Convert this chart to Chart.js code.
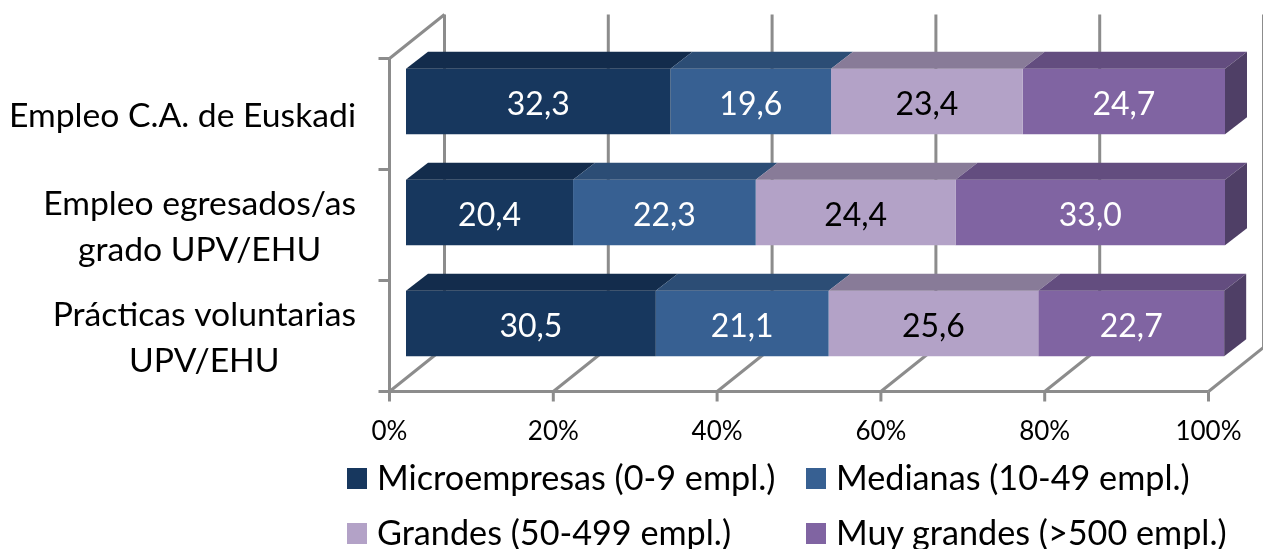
<!DOCTYPE html>
<html>
<head>
<meta charset="utf-8">
<script src="https://cdn.jsdelivr.net/npm/chart.js@4"></script>
<style>
html, body { margin: 0; padding: 0; background: #fff; overflow: hidden; }
#wrap { position: relative; width: 1263px; height: 549px; }
#legend span { position: absolute; font: 34.2px Lato, sans-serif; color: #000; white-space: nowrap; line-height: 34px; }
#legend i { position: absolute; width: 20px; height: 21px; }
</style>
</head>
<body>
<div id="wrap">
<canvas id="chart" width="1263" height="549"></canvas>
<div id="legend"></div>
</div>
<script>
const categories = [
	['Empleo C.A. de Euskadi'],
	['Empleo egresados/as', 'grado UPV/EHU'],
	['Prácticas voluntarias', 'UPV/EHU']
]
const seriesNames = ['Microempresas (0-9 empl.)', 'Medianas (10-49 empl.)', 'Grandes (50-499 empl.)', 'Muy grandes (>500 empl.)']
const micro = [32.3, 20.4, 30.5]
const medianas = [19.6, 22.3, 21.1]
const grandes = [23.4, 24.4, 25.6]
const muyGrandes = [24.7, 33.0, 22.7]
const xTicks = [0, 20, 40, 60, 80, 100]

const frontColors = ['#17375E', '#376092', '#B3A2C7', '#8064A2']
const topColors = ['#132C4C', '#2C4D75', '#887B98', '#634D7F']
const labelColors = ['#fff', '#fff', '#000', '#fff']
const sideColor = '#4F3F66'
const wallColor = '#8C8C8C'
const font = 'Lato, sans-serif'

// bars sit a bit up/right of the front plane of the box
const frontDx = -16.5, frontDy = 12.5
const backDx = 55, backDy = -44
const barDx = 22, barDy = -17

function line(ctx, x1, y1, x2, y2) {
	ctx.beginPath()
	ctx.moveTo(x1, y1)
	ctx.lineTo(x2, y2)
	ctx.stroke()
}

function poly(ctx, pts, fill) {
	ctx.beginPath()
	pts.forEach((p, i) => i ? ctx.lineTo(p[0], p[1]) : ctx.moveTo(p[0], p[1]))
	ctx.closePath()
	ctx.fillStyle = fill
	ctx.fill()
}

const box3d = {
	id: 'box3d',
	beforeDatasetsDraw(chart) {
		const ctx = chart.ctx, x = chart.scales.x, y = chart.scales.y
		const top = y.getPixelForValue(-0.5) + frontDy
		const bottom = y.getPixelForValue(categories.length - 0.5) + frontDy
		ctx.save()
		ctx.strokeStyle = wallColor
		ctx.lineWidth = 3
		xTicks.forEach((v) => {
			const px = x.getPixelForValue(v) + frontDx
			line(ctx, px + backDx, top + backDy, px + backDx, bottom + backDy)
			line(ctx, px, bottom, px + backDx, bottom + backDy)
			line(ctx, px, bottom, px, bottom + 10)
		})
		const left = x.getPixelForValue(0) + frontDx
		const right = x.getPixelForValue(100) + frontDx
		line(ctx, left, top, left, bottom + 1)
		line(ctx, left, top, left + backDx, top + backDy)
		line(ctx, left, bottom, right, bottom)
		for (let i = 0; i <= categories.length; i++) {
			const py = y.getPixelForValue(i - 0.5) + frontDy
			line(ctx, left - 11, py, left, py)
		}
		ctx.restore()
	},
	afterDatasetsDraw(chart) {
		const ctx = chart.ctx, x = chart.scales.x, y = chart.scales.y
		ctx.save()
		chart.data.datasets.forEach((ds, d) => {
			chart.getDatasetMeta(d).data.forEach((bar, i) => {
				const x0 = bar.base, x1 = Math.min(bar.x, chart.chartArea.right)
				const y0 = bar.y - bar.height / 2, y1 = bar.y + bar.height / 2
				poly(ctx, [[x0, y0], [x0 + barDx, y0 + barDy], [x1 + barDx, y0 + barDy], [x1, y0]], topColors[d])
				if (d === chart.data.datasets.length - 1) {
					poly(ctx, [[x1, y0], [x1 + barDx, y0 + barDy], [x1 + barDx, y1 + barDy], [x1, y1]], sideColor)
				}
				ctx.font = '32px ' + font
				ctx.fillStyle = labelColors[d]
				ctx.textAlign = 'center'
				ctx.textBaseline = 'middle'
				ctx.fillText(ds.data[i].toFixed(1).replace('.', ','), (x0 + x1) / 2, bar.y + 3)
			})
		})
		// category labels: lines centred on each other, block ends at the axis side
		ctx.font = '33.7px ' + font
		ctx.fillStyle = '#000'
		ctx.textAlign = 'center'
		ctx.textBaseline = 'middle'
		categories.forEach((lines, i) => {
			const w = Math.max(...lines.map((l) => ctx.measureText(l).width))
			const cy = y.getPixelForValue(i) + frontDy + 2
			lines.forEach((l, j) => {
				ctx.fillText(l, 356 - w / 2, cy + (j - (lines.length - 1) / 2) * 46)
			})
		})
		ctx.restore()
	}
}

new Chart(document.getElementById('chart').getContext('2d'), {
	type: 'bar',
	data: {
		labels: categories.map((c) => c.join(' ')),
		datasets: [micro, medianas, grandes, muyGrandes].map((vals, i) => ({
			label: seriesNames[i],
			data: vals,
			backgroundColor: frontColors[i],
			barPercentage: 0.59,
			categoryPercentage: 1
		}))
	},
	options: {
		indexAxis: 'y',
		responsive: false,
		animation: false,
		layout: { padding: { top: 46, right: 38 } },
		plugins: { legend: { display: false }, tooltip: { enabled: false } },
		scales: {
			x: {
				stacked: true,
				min: 0,
				max: 100,
				afterFit(s) { s.height = 170; s.paddingLeft = 0; s.paddingRight = 0 },
				grid: { display: false },
				border: { display: false },
				ticks: {
					stepSize: 20,
					maxRotation: 0,
					labelOffset: frontDx,
					padding: 29,
					color: '#000',
					font: { family: font, size: 26 },
					callback: (v) => v + '%'
				}
			},
			y: {
				stacked: true,
				afterFit(s) { s.width = 406 },
				grid: { display: false },
				border: { display: false },
				ticks: { display: false }
			}
		}
	},
	plugins: [box3d]
})

// legend is a 2x2 grid with fixed columns, the built-in one cannot do that
const legendEl = document.getElementById('legend')
const legendCols = [347, 806]
const legendRows = [468, 523]
seriesNames.forEach((name, i) => {
	const box = document.createElement('i')
	box.style.left = legendCols[i % 2] + 'px'
	box.style.top = legendRows[Math.floor(i / 2)] + 'px'
	box.style.background = frontColors[i]
	legendEl.appendChild(box)
	const txt = document.createElement('span')
	txt.textContent = name
	txt.style.left = (legendCols[i % 2] + 30) + 'px'
	txt.style.top = (legendRows[Math.floor(i / 2)] - 8) + 'px'
	legendEl.appendChild(txt)
})
</script>
</body>
</html>
